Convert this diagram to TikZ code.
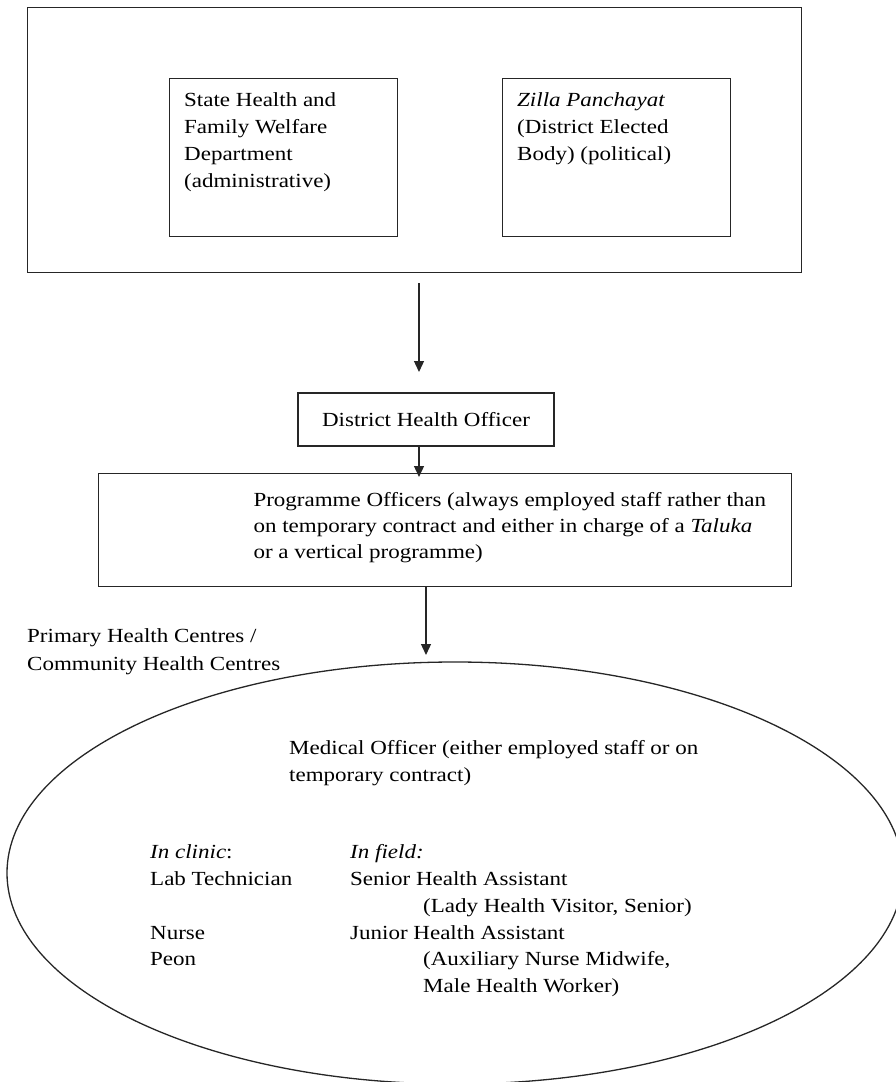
\documentclass[tikz,border=0pt]{standalone}
\usepackage{fontspec}
\setmainfont[FakeStretch=1.15]{Liberation Serif}
\usetikzlibrary{arrows.meta}
\begin{document}
\begin{tikzpicture}[x=1pt,y=1pt,
  box/.style={draw=black!85, line width=1.3pt, inner sep=0pt, anchor=north west},
  txt/.style={inner sep=0pt, anchor=base west, align=left, font=\fontsize{20}{27}\selectfont},
  arr/.style={draw=black!85, line width=1.3pt, -{Triangle[width=10pt,length=11pt]}}]
\useasboundingbox (0,0) rectangle (896,-1082);
% top block
\node[box, minimum width=774pt, minimum height=265pt] (outer) at (27,-7) {};
\node[box, minimum width=228pt, minimum height=158pt] (shfw) at (168.5,-77.5) {};
\node[box, minimum width=228pt, minimum height=158pt] (zp) at (501.5,-77.5) {};
% (base anchor of multi-line text = baseline of the last line)
\node[txt] (shfwt) at (184,-187.9) {State Health and\\Family Welfare\\Department\\(administrative)};
\node[txt] (zpt) at (517,-160.9) {\textit{Zilla Panchayat}\\(District Elected\\Body) (political)};
% DHO
\node[draw=black!85, line width=1.3pt, inner sep=0pt, minimum width=256pt, minimum height=53pt,
  font=\fontsize{20}{27}\selectfont] (dho) at (426,-419.5) {District Health Officer};
% programme officers
\node[box, minimum width=693pt, minimum height=113pt] (prog) at (98,-473) {};
\node[txt, font=\fontsize{20}{26.3}\selectfont] (progt) at (253.3,-558.6) {Programme Officers (always employed staff rather than\\on temporary contract and either in charge of a \textit{Taluka}\\or a vertical programme)};
% PHC
\node[txt, font=\fontsize{20}{27.7}\selectfont] (phcl) at (27,-670) {Primary Health Centres /\\Community Health Centres};
\draw[draw=black!85, line width=1.3pt] (455,-873) ellipse (448 and 211);
\node[txt, font=\fontsize{20}{27}\selectfont] (mo) at (289,-781) {Medical Officer (either employed staff or on\\temporary contract)};
\node[txt, font=\fontsize{20}{26.9}\selectfont] (clinic) at (150,-965.9) {\textit{In clinic}:\\Lab Technician\\\\Nurse\\Peon};
\node[txt, font=\fontsize{20}{26.9}\selectfont] (field) at (350,-992.8) {\textit{In field:}\\Senior Health Assistant\\\hspace*{73pt}(Lady Health Visitor, Senior)\\Junior Health Assistant\\\hspace*{73pt}(Auxiliary Nurse Midwife,\\\hspace*{73pt}Male Health Worker)};
% arrows
\coordinate (a1s) at (419,-283);
\coordinate (a1e) at (419,-372);
\draw[arr] (a1s) -- (a1e);
\coordinate (a2s) at (419,-446);
\coordinate (a2e) at (419,-477);
\draw[arr] (a2s) -- (a2e);
\coordinate (a3s) at (426,-586);
\coordinate (a3e) at (426,-655);
\draw[arr] (a3s) -- (a3e);
\end{tikzpicture}
\end{document}
